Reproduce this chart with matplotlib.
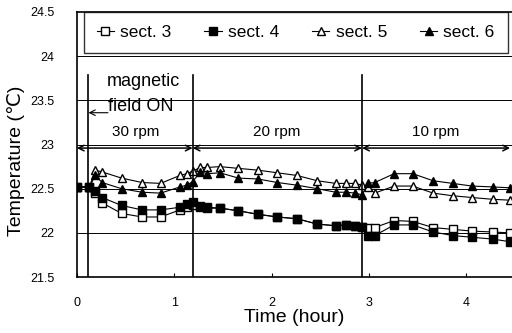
import matplotlib.pyplot as plt

plt.rcParams['font.family'] = ['Liberation Sans', 'DejaVu Sans']

# tiempo (horas) y temperatura de cada sector
tiempo = [0.0, 0.13, 0.19, 0.26, 0.46, 0.67, 0.86, 1.06, 1.13, 1.19, 1.27, 1.34, 1.47, 1.66, 1.86, 2.06,
          2.26, 2.47, 2.66, 2.77, 2.86, 2.93, 2.99, 3.06, 3.26, 3.45, 3.66, 3.86, 4.06, 4.27, 4.45]
sect3 = [22.52, 22.52, 22.45, 22.34, 22.22, 22.18, 22.18, 22.26, 22.29, 22.31, 22.29, 22.28, 22.28, 22.25, 22.21, 22.18,
         22.16, 22.10, 22.08, 22.09, 22.08, 22.07, 22.05, 22.06, 22.14, 22.13, 22.06, 22.04, 22.02, 22.01, 22.00]
sect4 = [22.52, 22.52, 22.47, 22.40, 22.31, 22.26, 22.26, 22.29, 22.33, 22.35, 22.30, 22.29, 22.28, 22.25, 22.21, 22.18,
         22.16, 22.10, 22.08, 22.09, 22.08, 22.07, 21.96, 21.97, 22.09, 22.09, 22.01, 21.97, 21.95, 21.93, 21.90]
sect5 = [22.52, 22.52, 22.71, 22.69, 22.62, 22.57, 22.56, 22.65, 22.67, 22.70, 22.74, 22.74, 22.75, 22.73, 22.71, 22.68,
         22.65, 22.59, 22.56, 22.56, 22.56, 22.54, 22.52, 22.45, 22.53, 22.53, 22.45, 22.42, 22.40, 22.38, 22.37]
sect6 = [22.52, 22.52, 22.65, 22.57, 22.50, 22.46, 22.45, 22.52, 22.54, 22.58, 22.69, 22.67, 22.68, 22.62, 22.61, 22.57,
         22.54, 22.50, 22.46, 22.46, 22.45, 22.43, 22.56, 22.57, 22.67, 22.67, 22.59, 22.56, 22.53, 22.52, 22.51]

# cambios de velocidad
t_campo = 0.12
t_cambios = [1.19, 2.93]
tramos = [(0.0, 1.19, 0.6, '30 rpm'), (1.19, 2.93, 2.05, '20 rpm'), (2.93, 4.45, 3.69, '10 rpm')]

fig = plt.figure(figsize=(5.12, 3.33), dpi=100)
ax = fig.add_axes([0.150, 0.168, 0.85, 0.796])

ax.plot(tiempo, sect3, '-', color='black', lw=0.8, marker='s', mfc='white', mec='black', ms=6, label='sect. 3')
ax.plot(tiempo, sect4, '-', color='black', lw=0.8, marker='s', mfc='black', mec='black', ms=6, label='sect. 4')
ax.plot(tiempo, sect5, '-', color='black', lw=0.8, marker='^', mfc='white', mec='black', ms=6, label='sect. 5')
ax.plot(tiempo, sect6, '-', color='black', lw=0.8, marker='^', mfc='black', mec='black', ms=6, label='sect. 6')

ax.set_xlim(0, 4.47)
ax.set_ylim(21.5, 24.5)
ax.set_yticks([21.5, 22, 22.5, 23, 23.5, 24, 24.5])
ax.set_yticklabels(['21.5', '22', '22.5', '23', '23.5', '24', '24.5'])
ax.set_xticks([0, 1, 2, 3, 4])
for y in [22, 22.5, 23, 23.5, 24]:
    ax.axhline(y, color='black', lw=0.7, zorder=0)
ax.tick_params(axis='y', length=0, labelsize=9, pad=16)
ax.tick_params(axis='x', direction='in', length=3, labelsize=9, pad=14)
ax.spines['right'].set_visible(False)
for s in ['left', 'bottom', 'top']:
    ax.spines[s].set_linewidth(1.2)

# lineas verticales y flechas
ax.plot([t_campo, t_campo], [21.5, 23.79], color='black', lw=1.2)
for t in t_cambios:
    ax.plot([t, t], [21.5, 23.79], color='black', lw=1.2)
for a, b, c, txt in tramos:
    ax.annotate('', xy=(a, 22.96), xytext=(b, 22.96),
                arrowprops=dict(arrowstyle='<->', color='black', lw=1.1, shrinkA=0, shrinkB=0))
    ax.text(c, 23.14, txt, ha='center', va='center', fontsize=11)

ax.text(0.31, 23.71, 'magnetic', ha='left', va='center', fontsize=13)
ax.text(0.32, 23.43, 'field ON', ha='left', va='center', fontsize=13)
ax.annotate('', xy=(t_campo, 23.36), xytext=(0.32, 23.36),
            arrowprops=dict(arrowstyle='->', color='black', lw=0.8, shrinkA=0, shrinkB=0))

leg = ax.legend(loc='upper left', bbox_to_anchor=(0.016, 1.0), borderaxespad=0, ncol=4, fontsize=12.5,
                frameon=True, fancybox=False, edgecolor='black', handlelength=1.0,
                handletextpad=0.35, columnspacing=1.9, borderpad=0.75, markerscale=0.85)
leg.get_frame().set_linewidth(1.0)

ax.set_xlabel('Time (hour)', fontsize=14, labelpad=0)
ax.set_ylabel('Temperature (℃)', fontsize=14)
ax.yaxis.set_label_coords(-0.12, 0.44)

fig.savefig('out.png', dpi=100)
